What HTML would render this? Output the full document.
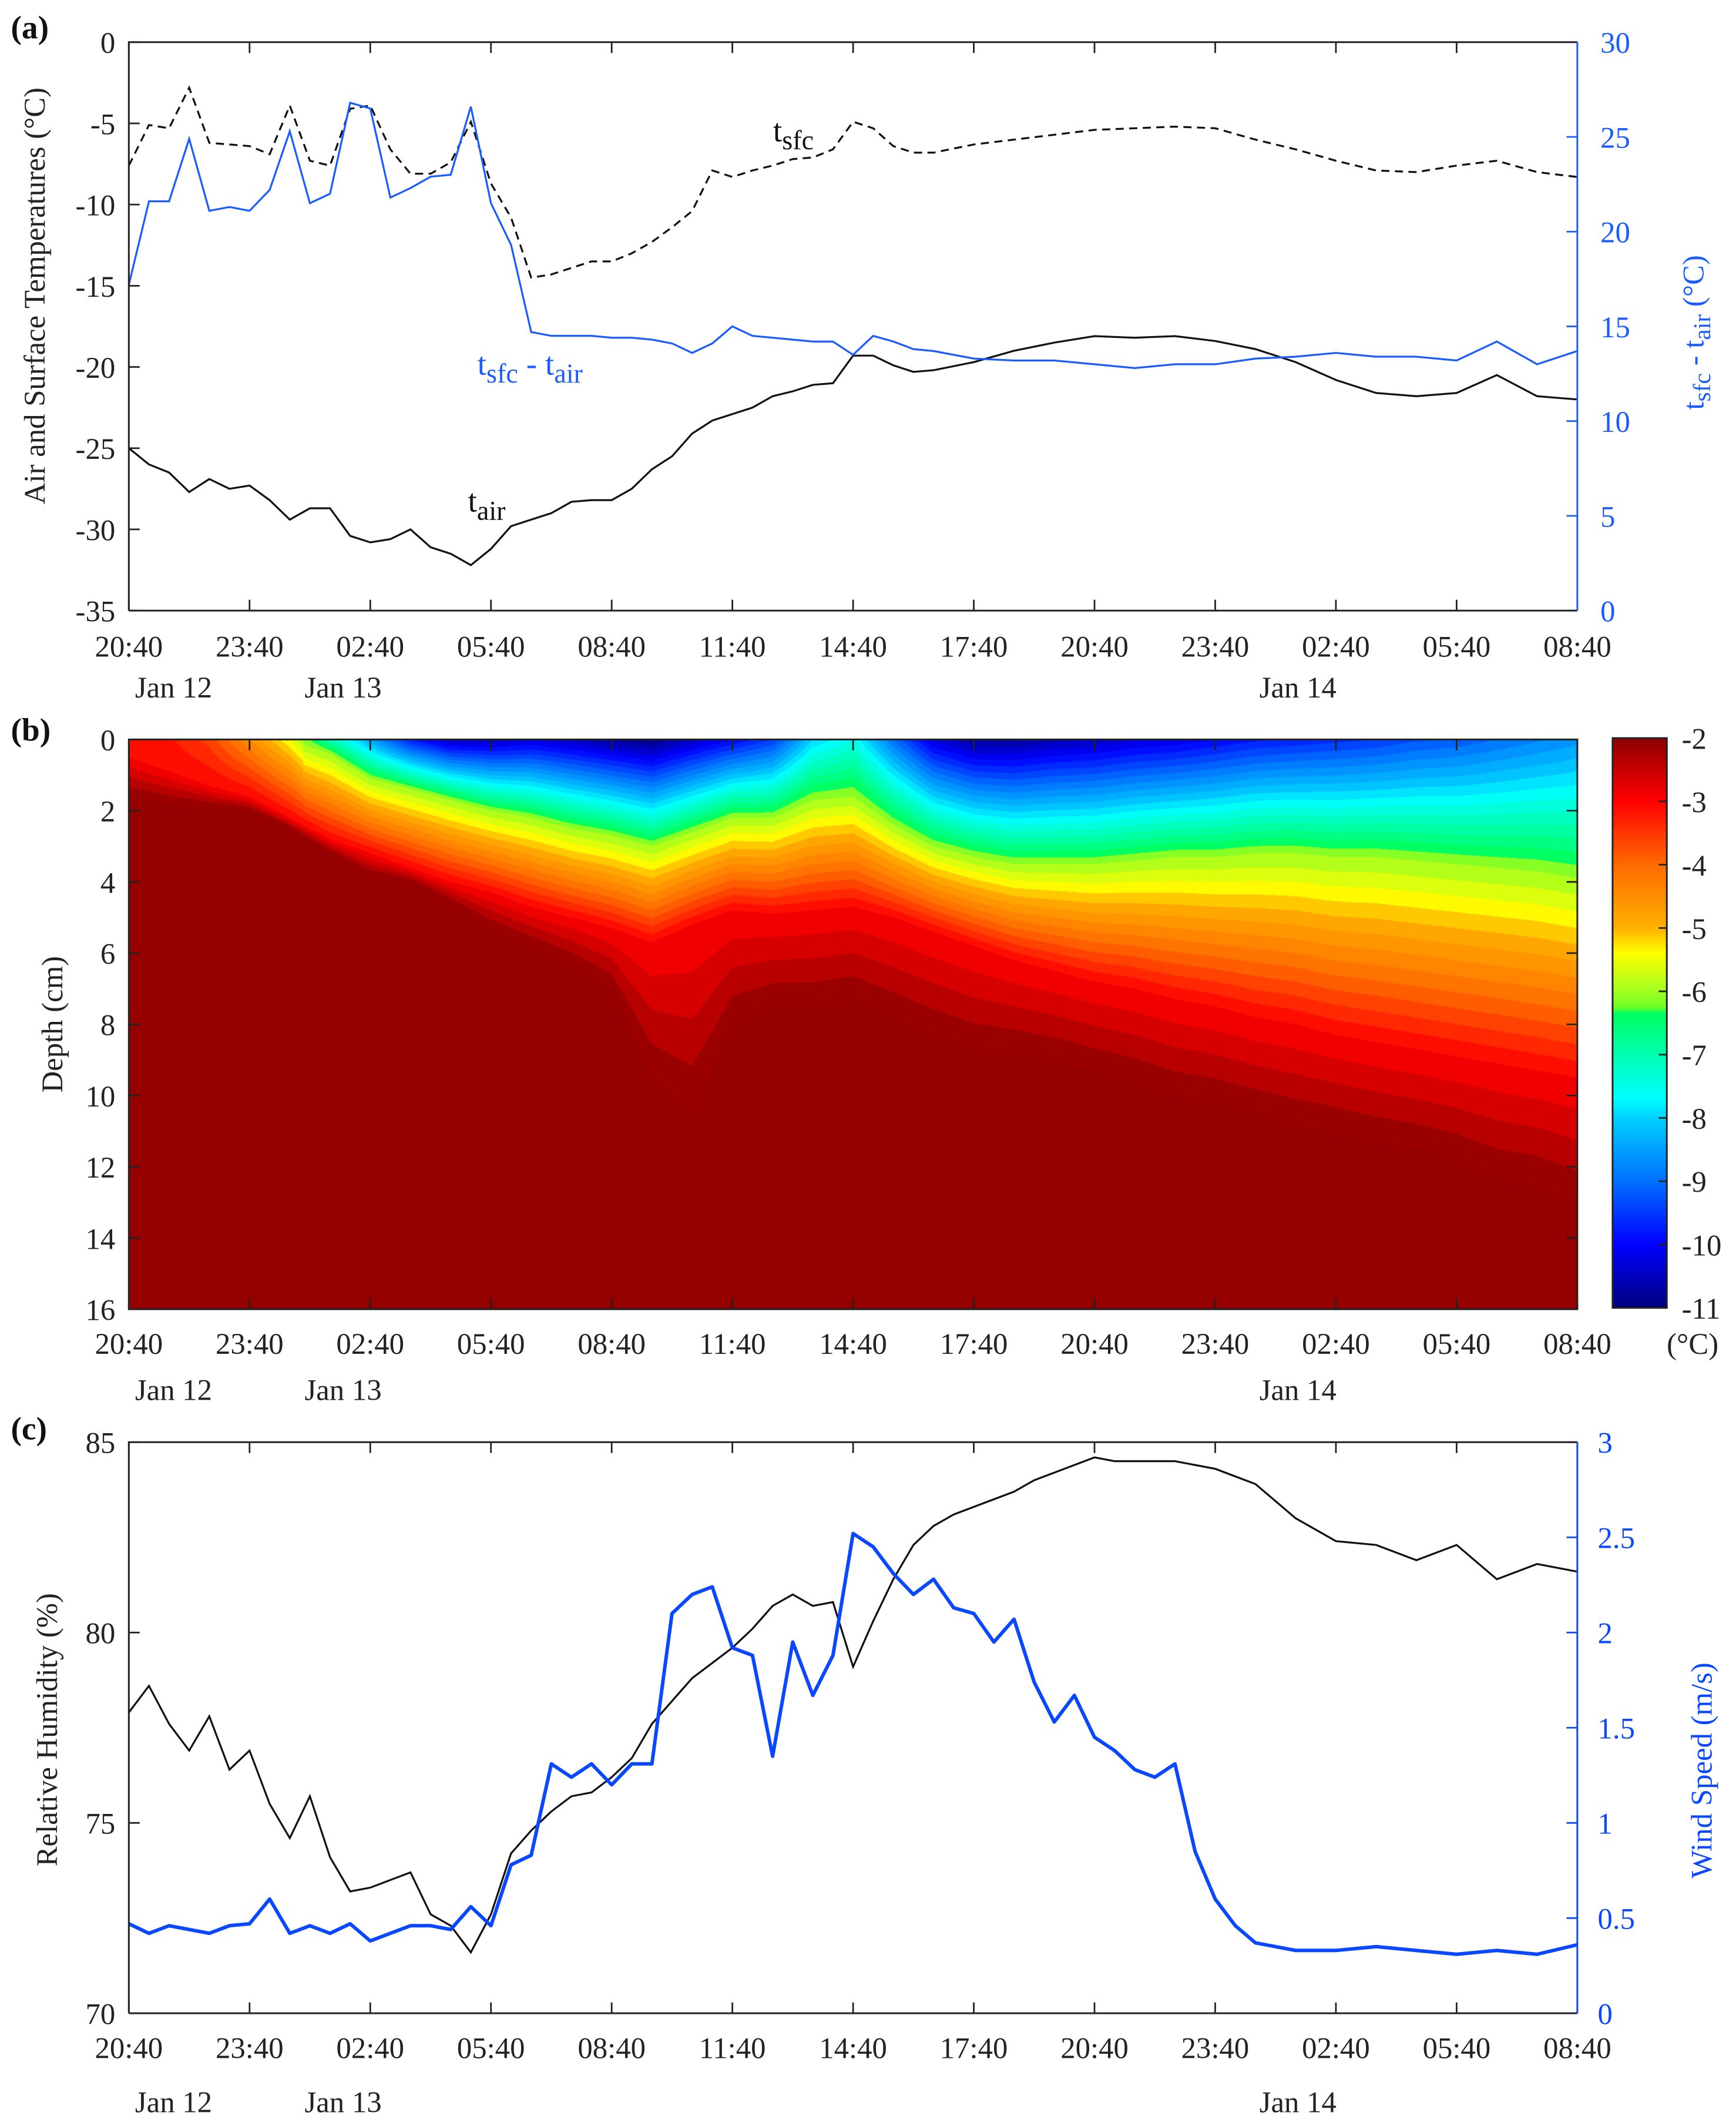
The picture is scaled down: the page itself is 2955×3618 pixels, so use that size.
<!DOCTYPE html>
<html><head><meta charset="utf-8"><title>Snow temperature, humidity and wind speed</title>
<style>
html,body{margin:0;padding:0;background:#fff;}
#wrap{position:relative;width:2955px;height:3618px;overflow:hidden;background:#fff;}
#contour{position:absolute;left:219px;top:1258px;width:2466px;height:970px;}
#chart{position:absolute;left:0;top:0;}
text{font-family:"Liberation Serif",serif;}
</style></head>
<body>
<div id="wrap">
<canvas id="contour" width="2466" height="970"></canvas>
<svg id="chart" width="2955" height="3618" viewBox="0 0 1280 1567" xmlns="http://www.w3.org/2000/svg">
<defs><linearGradient id="cbgrad" x1="0" y1="1" x2="0" y2="0"></linearGradient></defs>
<g id="g"></g>
</svg>
</div>
<script>
// ---------- Panel (a) data ----------
const timesA = [0,0.5,1,1.5,2,2.5,3,3.5,4,4.5,5,5.5,6,6.5,7,7.5,8,8.5,9,9.5,10,10.5,11,11.5,12,12.5,13,13.5,14,14.5,15,15.5,16,16.5,17,17.5,18,18.5,19,19.5,20,21,22,23,24,25,26,27,28,29,30,31,32,33,34,35,36];
const tsfcVals = [-7.6,-5.1,-5.3,-2.8,-6.2,-6.3,-6.4,-6.9,-3.9,-7.3,-7.6,-4.1,-3.9,-6.6,-8.1,-8.1,-7.4,-4.9,-8.7,-10.8,-14.5,-14.3,-13.9,-13.5,-13.5,-13.0,-12.3,-11.4,-10.4,-7.9,-8.3,-7.9,-7.6,-7.2,-7.1,-6.6,-4.9,-5.3,-6.4,-6.8,-6.8,-6.3,-6.0,-5.7,-5.4,-5.3,-5.2,-5.3,-6.0,-6.6,-7.3,-7.9,-8.0,-7.6,-7.3,-8.0,-8.3];
const tairVals = [-25.0,-26.0,-26.5,-27.7,-26.9,-27.5,-27.3,-28.2,-29.4,-28.7,-28.7,-30.4,-30.8,-30.6,-30.0,-31.1,-31.5,-32.2,-31.2,-29.8,-29.4,-29.0,-28.3,-28.2,-28.2,-27.5,-26.3,-25.5,-24.1,-23.3,-22.9,-22.5,-21.8,-21.5,-21.1,-21.0,-19.3,-19.3,-19.9,-20.3,-20.2,-19.7,-19.0,-18.5,-18.1,-18.2,-18.1,-18.4,-18.9,-19.7,-20.8,-21.6,-21.8,-21.6,-20.5,-21.8,-22.0];
const diffVals = [17.2,21.6,21.6,24.9,21.1,21.3,21.1,22.2,25.3,21.5,22.0,26.8,26.5,21.8,22.3,22.9,23.0,26.6,21.5,19.3,14.7,14.5,14.5,14.5,14.4,14.4,14.3,14.1,13.6,14.1,15.0,14.5,14.4,14.3,14.2,14.2,13.5,14.5,14.2,13.8,13.7,13.3,13.2,13.2,13.0,12.8,13.0,13.0,13.3,13.4,13.6,13.4,13.4,13.2,14.2,13.0,13.7];
const xTickLabels = ["20:40","23:40","02:40","05:40","08:40","11:40","14:40","17:40","20:40","23:40","02:40","05:40","08:40"];
const yTicksA = [0,-5,-10,-15,-20,-25,-30,-35];
const yTicksAR = [0,5,10,15,20,25,30];
// ---------- Panel (b) data (hourly) ----------
const timesB = [0,1,2,3,4,5,6,7,8,9,10,11,12,13,14,15,16,17,18,19,20,21,22,23,24,25,26,27,28,29,30,31,32,33,34,35,36];
const surfT = [-3.0,-3.2,-3.6,-4.5,-5.5,-7.0,-8.5,-9.8,-10.5,-10.5,-10.3,-10.5,-10.8,-11.0,-10.5,-10.0,-9.5,-8.0,-7.5,-9.0,-10.3,-10.8,-10.8,-10.6,-10.5,-10.3,-10.2,-10.0,-9.8,-9.7,-9.6,-9.5,-9.3,-9.2,-9.0,-8.8,-8.6];
const depthM6 = [0,0,0,0,0,0.4,1.1,1.4,1.7,2.0,2.2,2.5,2.7,3.0,2.6,2.2,2.2,1.7,1.6,2.4,3.0,3.3,3.5,3.5,3.5,3.4,3.3,3.3,3.2,3.2,3.3,3.3,3.4,3.5,3.6,3.7,3.9];
const depthM3 = [0.5,0.9,1.3,1.6,2.2,2.8,3.2,3.6,4.0,4.3,4.7,5.0,5.3,5.7,5.2,4.8,4.9,4.8,4.7,5.0,5.4,5.8,6.2,6.5,6.8,7.0,7.3,7.5,7.8,8.0,8.3,8.5,8.7,8.9,9.1,9.3,9.5];
const depthM2 = [1.6,1.8,1.9,2.0,2.5,3.2,3.8,4.0,4.6,5.3,5.8,6.3,7.0,9.5,10.5,8.0,7.5,7.5,7.3,7.8,8.3,8.7,8.8,9.0,9.3,9.6,10.0,10.2,10.5,10.8,11.0,11.3,11.5,11.8,12.3,12.5,13.0];
const depthTicks = [0,2,4,6,8,10,12,14,16];
const cbTicks = [-2,-3,-4,-5,-6,-7,-8,-9,-10,-11];
// ---------- Panel (c) data ----------
const timesC = [0,0.5,1,1.5,2,2.5,3,3.5,4,4.5,5,5.5,6,6.5,7,7.5,8,8.5,9,9.5,10,10.5,11,11.5,12,12.5,13,13.5,14,14.5,15,15.5,16,16.5,17,17.5,18,18.5,19,19.5,20,20.5,21,21.5,22,22.5,23,23.5,24,24.5,25,25.5,26,26.5,27,27.5,28,29,30,31,32,33,34,35,36];
const rhVals = [77.9,78.6,77.6,76.9,77.8,76.4,76.9,75.5,74.6,75.7,74.1,73.2,73.3,73.5,73.7,72.6,72.3,71.6,72.6,74.2,74.8,75.3,75.7,75.8,76.2,76.7,77.6,78.2,78.8,79.2,79.6,80.1,80.7,81.0,80.7,80.8,79.1,80.3,81.4,82.3,82.8,83.1,83.3,83.5,83.7,84.0,84.2,84.4,84.6,84.5,84.5,84.5,84.5,84.4,84.3,84.1,83.9,83.0,82.4,82.3,81.9,82.3,81.4,81.8,81.6];
const windVals = [0.47,0.42,0.46,0.44,0.42,0.46,0.47,0.60,0.42,0.46,0.42,0.47,0.38,0.42,0.46,0.46,0.44,0.56,0.46,0.78,0.83,1.31,1.24,1.31,1.20,1.31,1.31,2.10,2.20,2.24,1.92,1.88,1.35,1.95,1.67,1.88,2.52,2.45,2.31,2.20,2.28,2.13,2.10,1.95,2.07,1.74,1.53,1.67,1.45,1.38,1.28,1.24,1.31,0.85,0.60,0.46,0.37,0.33,0.33,0.35,0.33,0.31,0.33,0.31,0.36];
const yTicksC = [70,75,80,85];
const yTicksCR = [0,0.5,1,1.5,2,2.5,3];

// ---------- geometry / axis functions ----------
const X0=95, X1=1163;
const xS = h => X0 + h*(X1-X0)/36;
const A_T=31, A_B=450, B_T=545, B_B=965, C_T=1063, C_B=1484;
const yA = v => A_T + (0-v)*(A_B-A_T)/35;
const yAR = v => A_B - v*(A_B-A_T)/30;
const yB = d => B_T + d*(B_B-B_T)/16;
const yC = v => C_B - (v-70)*(C_B-C_T)/15;
const yCR = w => C_B - w*(C_B-C_T)/3;
const NS="http://www.w3.org/2000/svg";
const G=document.getElementById('g');
function mk(tag,attrs,parent){const e=document.createElementNS(NS,tag);for(const k in attrs)e.setAttribute(k,attrs[k]);(parent||G).appendChild(e);return e;}
function txt(x,y,s,anchor,size,fill,extra){const e=mk('text',Object.assign({x:x,y:y,'text-anchor':anchor||'middle','font-size':size||22,fill:fill||'#222'},extra||{}));e.textContent=s;return e;}
function linePath(ts,vs,xf,yf){return ts.map((t,i)=>(i?'L':'M')+xf(t).toFixed(2)+','+yf(vs[i]).toFixed(2)).join('');}

// ---------- colormap ----------
const cmapStops=[[-11,[0,0,128]],[-10,[0,0,255]],[-9,[0,112,255]],[-8,[0,208,255]],[-7.7,[0,255,255]],[-7,[0,255,176]],[-6.35,[0,255,96]],[-6.25,[110,255,40]],[-6,[160,255,32]],[-5.4,[255,255,0]],[-5,[255,176,0]],[-4,[255,106,0]],[-3,[255,0,0]],[-2.5,[200,0,0]],[-2,[140,0,0]]];
function cmap(T){if(T<=cmapStops[0][0])return cmapStops[0][1];for(let i=1;i<cmapStops.length;i++){if(T<=cmapStops[i][0]){const a=cmapStops[i-1],b=cmapStops[i];const f=(T-a[0])/(b[0]-a[0]);return [0,1,2].map(k=>Math.round(a[1][k]+f*(b[1][k]-a[1][k])));}}return [149,0,0];}

// ---------- contour canvas ----------
(function(){
 const cv=document.getElementById('contour');const ctx=cv.getContext('2d');
 const W=cv.width,H=cv.height;const img=ctx.createImageData(W,H);
 function interp(arr,h){const i=Math.min(Math.floor(h),35);const f=h-i;return arr[i]+(arr[i+1]-arr[i])*f;}
 for(let px=0;px<W;px++){
  const h=px/(W-1)*36;
  const ts=interp(surfT,h),d6=interp(depthM6,h),d3=interp(depthM3,h),d2=interp(depthM2,h);
  const knots=[[0,ts]];
  if(ts<-6&&d6>0)knots.push([d6,-6]);
  knots.push([Math.max(d3,knots[knots.length-1][0]+0.05),-3]);
  knots.push([Math.max(d2,knots[knots.length-1][0]+0.05),-2]);
  for(let py=0;py<H;py++){
   const d=py/(H-1)*16;let T=-1.9;
   for(let k=1;k<knots.length;k++){if(d<=knots[k][0]){const a=knots[k-1],b=knots[k];T=a[1]+(d-a[0])/(b[0]-a[0])*(b[1]-a[1]);break;}}
   let q;
   if(T>-2.0)q=-1.9;else q=Math.floor(T*4)/4+0.125;
   const c=(q>-2)?[149,0,0]:cmap(q);
   const o=(py*W+px)*4;img.data[o]=c[0];img.data[o+1]=c[1];img.data[o+2]=c[2];img.data[o+3]=255;
  }
 }
 ctx.putImageData(img,0,0);
})();

// ---------- colorbar gradient ----------
(function(){const gr=document.getElementById('cbgrad');cmapStops.forEach(s=>{const st=document.createElementNS(NS,'stop');st.setAttribute('offset',((s[0]+11)/9).toFixed(4));st.setAttribute('stop-color','rgb('+s[1].join(',')+')');gr.appendChild(st);});})();

// ---------- Panel labels ----------
let e;
e=txt(8,28,'(a)','start',24,'#111',{'font-weight':'bold'});


e=txt(8,546,'(b)','start',24,'#111',{'font-weight':'bold'});


e=txt(8,1061,'(c)','start',24,'#111',{'font-weight':'bold'});



// ---------- x axes for all panels ----------
[[A_T,A_B,'a',476,506],[B_T,B_B,'b',990,1024],[C_T,C_B,'c',1509,1549]].forEach(p=>{
 const [top,bot,id,ly,dy]=p;
 xTickLabels.forEach((lab,i)=>{
  const x=xS(i*3);
  const t1=mk('line',{x1:x,y1:bot,x2:x,y2:bot-8,stroke:'#222','stroke-width':1.2});
  
  
  const t2=mk('line',{x1:x,y1:top,x2:x,y2:top+8,stroke:'#222','stroke-width':1.2});
  
  
  const tl=txt(x,ly+8,lab,'middle',22);
  
  
 });
 [['Jan 12',128],['Jan 13',253],['Jan 14',957]].forEach(d=>{
  const dl=txt(d[1],dy+8,d[0],'middle',22);
  
  
 });
});

// ---------- Panel (a) ----------
yTicksA.forEach(v=>{
 const y=yA(v);
 const t=mk('line',{x1:X0,y1:y,x2:X0+8,y2:y,stroke:'#222','stroke-width':1.2});
 
 
 const l=txt(85,y+8,String(v),'end',22);
 
 
});
yTicksAR.forEach(v=>{
 const y=yAR(v);
 const t=mk('line',{x1:X1,y1:y,x2:X1-8,y2:y,stroke:'#1a5cff','stroke-width':1.2});
 
 
 const l=txt(1180,y+8,String(v),'start',22,'#1a5cff');
 
 
});
e=mk('path',{d:linePath(timesA,tsfcVals,xS,yA),fill:'none',stroke:'#111','stroke-width':1.4,'stroke-dasharray':'6,4'});


e=mk('path',{d:linePath(timesA,tairVals,xS,yA),fill:'none',stroke:'#111','stroke-width':1.4});


e=mk('path',{d:linePath(timesA,diffVals,xS,yAR),fill:'none',stroke:'#1a5cff','stroke-width':1.4});


e=mk('path',{d:'M'+X0+','+A_B+'V'+A_T+'H'+X1+'M'+X0+','+A_B+'H'+X1,fill:'none',stroke:'#222','stroke-width':1.3});


e=mk('line',{x1:X1,y1:A_T,x2:X1,y2:A_B,stroke:'#1a5cff','stroke-width':1.3});


e=mk('text',{x:570,y:104,'font-size':24,fill:'#111'});
e.innerHTML='t<tspan font-size="20" dy="6">sfc</tspan>';


e=mk('text',{x:352,y:276,'font-size':24,fill:'#1a5cff'});
e.innerHTML='t<tspan font-size="20" dy="6">sfc</tspan><tspan dy="-6"> - t</tspan><tspan font-size="20" dy="6">air</tspan>';


e=mk('text',{x:345,y:377,'font-size':24,fill:'#111'});
e.innerHTML='t<tspan font-size="20" dy="6">air</tspan>';


e=txt(0,0,'Air and Surface Temperatures (°C)','middle',22,'#222',{transform:'translate(33,218) rotate(-90)'});


e=mk('text',{'text-anchor':'middle','font-size':22,fill:'#1a5cff',transform:'translate(1256,245) rotate(-90)'});
e.innerHTML='t<tspan font-size="18" dy="5">sfc</tspan><tspan dy="-5"> - t</tspan><tspan font-size="18" dy="5">air</tspan><tspan dy="-5"> (°C)</tspan>';



// ---------- Panel (b) ----------
e=mk('rect',{x:X0,y:B_T,width:X1-X0,height:B_B-B_T,fill:'none',stroke:'#222','stroke-width':1.3});


depthTicks.forEach(d=>{
 const y=yB(d);
 const t=mk('line',{x1:X0,y1:y,x2:X0+8,y2:y,stroke:'#222','stroke-width':1.2});
 
 
 const t2=mk('line',{x1:X1,y1:y,x2:X1-8,y2:y,stroke:'#222','stroke-width':1.2});
 
 
 const l=txt(85,y+8,String(d),'end',22);
 
 
});
e=txt(0,0,'Depth (cm)','middle',22,'#222',{transform:'translate(46,755) rotate(-90)'});


const CB_X=1189, CB_W=40, CB_T=544, CB_B=964;
const yCB = v => CB_B - (v+11)*(CB_B-CB_T)/9;
e=mk('rect',{x:CB_X,y:CB_T,width:CB_W,height:CB_B-CB_T,fill:'url(#cbgrad)',stroke:'#222','stroke-width':1.3});


cbTicks.forEach(v=>{
 const y=yCB(v);
 const t=mk('line',{x1:CB_X+CB_W,y1:y,x2:CB_X+CB_W-6,y2:y,stroke:'#222','stroke-width':1.2});
 
 
 const l=txt(1240,y+8,String(v),'start',22);
 
 
});
e=txt(1248,998,'(°C)','middle',22);



// ---------- Panel (c) ----------
yTicksC.forEach(v=>{
 const y=yC(v);
 const t=mk('line',{x1:X0,y1:y,x2:X0+8,y2:y,stroke:'#222','stroke-width':1.2});
 
 
 const l=txt(85,y+8,String(v),'end',22);
 
 
});
yTicksCR.forEach(v=>{
 const y=yCR(v);
 const t=mk('line',{x1:X1,y1:y,x2:X1-8,y2:y,stroke:'#0a48ff','stroke-width':1.2});
 
 
 const l=txt(1178,y+8,String(v),'start',22,'#0a48ff');
 
 
});
e=mk('path',{d:linePath(timesC,rhVals,xS,yC),fill:'none',stroke:'#111','stroke-width':1.4});


e=mk('path',{d:linePath(timesC,windVals,xS,yCR),fill:'none',stroke:'#0a48ff','stroke-width':2.6,'stroke-linejoin':'round'});


e=mk('path',{d:'M'+X0+','+C_B+'V'+C_T+'H'+X1+'M'+X0+','+C_B+'H'+X1,fill:'none',stroke:'#222','stroke-width':1.3});


e=mk('line',{x1:X1,y1:C_T,x2:X1,y2:C_B,stroke:'#0a48ff','stroke-width':1.3});


e=txt(0,0,'Relative Humidity (%)','middle',22,'#222',{transform:'translate(42,1275) rotate(-90)'});


e=txt(0,0,'Wind Speed (m/s)','middle',22,'#0a48ff',{transform:'translate(1262,1305) rotate(-90)'});


</script>
</body></html>
